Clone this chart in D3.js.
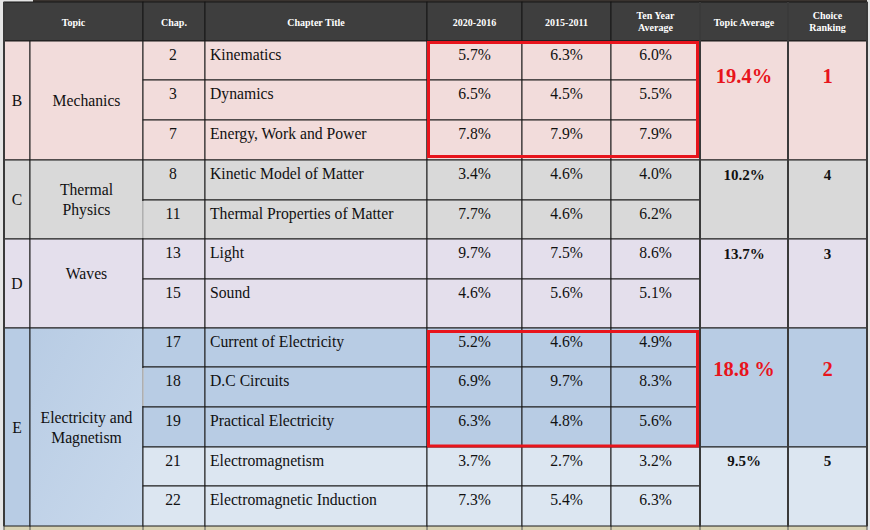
<!DOCTYPE html>
<html>
<head>
<meta charset="utf-8">
<script src="https://cdn.jsdelivr.net/npm/d3@7"></script>
<style>
  html, body { margin: 0; padding: 0; background: #e6e6e6; }
  svg { display: block; }
  text { font-family: "Liberation Serif", "Times New Roman", serif; }
</style>
</head>
<body>
<svg id="chart" width="870" height="530"></svg>
<script>
// ---------------- DATA ----------------
const headers = ["Topic", "Chap.", "Chapter Title", "2020-2016", "2015-2011", "Ten Year\nAverage", "Topic Average", "Choice\nRanking"];
const topicLetters = ["B", "C", "D", "E"];
const topicNames = ["Mechanics", "Thermal\nPhysics", "Waves", "Electricity and\nMagnetism"];
const topicFirstRow = [0, 3, 5, 7];
const topicLastRow = [3, 5, 7, 12];           // exclusive
const chapters = [2, 3, 7, 8, 11, 13, 15, 17, 18, 19, 21, 22];
const chapterTitles = ["Kinematics", "Dynamics", "Energy, Work and Power", "Kinetic Model of Matter",
  "Thermal Properties of Matter", "Light", "Sound", "Current of Electricity", "D.C Circuits",
  "Practical Electricity", "Electromagnetism", "Electromagnetic Induction"];
const share2020_2016 = [5.7, 6.5, 7.8, 3.4, 7.7, 9.7, 4.6, 5.2, 6.9, 6.3, 3.7, 7.3];
const share2015_2011 = [6.3, 4.5, 7.9, 4.6, 4.6, 7.5, 5.6, 4.6, 9.7, 4.8, 2.7, 5.4];
const shareTenYear  = [6.0, 5.5, 7.9, 4.0, 6.2, 8.6, 5.1, 4.9, 8.3, 5.6, 3.2, 6.3];
const groupLabels = ["19.4%", "10.2%", "13.7%", "18.8 %", "9.5%"];
const groupRanking = [1, 4, 3, 2, 5];
const groupFirstRow = [0, 3, 5, 7, 10];
const groupLastRow = [3, 5, 7, 10, 12];       // exclusive
const groupHighlighted = [true, false, false, true, false];

// ---------------- LAYOUT ----------------
const W = 870, H = 530;
const colEdges = [4, 30, 143, 205, 427, 522, 611, 700, 788, 867];
const rowEdges = [41, 80, 120, 160, 200, 239, 279, 328, 367, 407, 447, 486, 526];
const headerTop = 2, headerBottom = 41;
const x = d3.scaleLinear().domain(d3.range(colEdges.length)).range(colEdges);
const y = d3.scaleLinear().domain(d3.range(rowEdges.length)).range(rowEdges);
const groupFill = d3.scaleOrdinal().domain(d3.range(5)).range(["#f2dcdb", "#d9d9d9", "#e4dfec", "#b8cce4", "#dce6f1"]);
const topicFill = d3.scaleOrdinal().domain(d3.range(4)).range(["#f2dcdb", "#d9d9d9", "#e4dfec", "url(#blueGrad)"]);
const topicNameDy = [0, 0, -10, 0];
const groupTextDy = [42, 19.5, 20.3, 48, 19];
const gridColor = "#1c1c1c";
const red = "#e8141c";
const fmt = v => d3.format(".1f")(v) + "%";

const rowGroup = chapters.map((c, i) => groupFirstRow.findIndex((s, g) => i >= s && i < groupLastRow[g]));

const svg = d3.select("#chart");
const defs = svg.append("defs");
const grad = defs.append("linearGradient").attr("id", "blueGrad")
  .attr("x1", "0").attr("y1", "0").attr("x2", "1").attr("y2", "1");
grad.append("stop").attr("offset", "0%").attr("stop-color", "#b8cce4");
grad.append("stop").attr("offset", "100%").attr("stop-color", "#c9d9ec");

// page background
svg.append("rect").attr("width", W).attr("height", H).attr("fill", "#e6e6e6");
// top dark strip
svg.append("rect").attr("x", 33).attr("y", 0).attr("width", x(9) - 33).attr("height", headerTop).attr("fill", "#3a3430");
// bottom strip
svg.append("rect").attr("x", x(0)).attr("y", y(12)).attr("width", x(9) - x(0)).attr("height", H - y(12)).attr("fill", "#d8d3b4");
svg.append("g").selectAll("line").data(d3.range(10)).join("line")
  .attr("x1", d => x(d)).attr("x2", d => x(d)).attr("y1", y(12)).attr("y2", H)
  .attr("stroke", "#555").attr("stroke-width", 1);

// header
const headerCols = [[0, 2], [2, 3], [3, 4], [4, 5], [5, 6], [6, 7], [7, 8], [8, 9]];
const hg = svg.append("g");
hg.selectAll("rect").data(headerCols).join("rect")
  .attr("x", d => x(d[0])).attr("y", headerTop)
  .attr("width", d => x(d[1]) - x(d[0])).attr("height", headerBottom - headerTop)
  .attr("fill", "#3e3e3e").attr("stroke", "#161616").attr("stroke-width", 1);
hg.selectAll("text").data(headers).join("text")
  .attr("text-anchor", "middle")
  .attr("font-size", 10).attr("font-weight", "bold").attr("fill", "#ffffff")
  .each(function (d, i) {
    const cx = (x(headerCols[i][0]) + x(headerCols[i][1])) / 2;
    const lines = d.split("\n");
    const sel = d3.select(this);
    lines.forEach((ln, k) => {
      const base = lines.length === 1 ? 25.5 : 18.5 + k * 12.5;
      sel.append("tspan").attr("x", cx).attr("y", base).text(ln);
    });
  });

// topic letter and name cells
const tg = svg.append("g");
tg.selectAll("rect.letter").data(topicLetters).join("rect").attr("class", "letter")
  .attr("x", x(0)).attr("y", (d, i) => y(topicFirstRow[i]))
  .attr("width", x(1) - x(0)).attr("height", (d, i) => y(topicLastRow[i]) - y(topicFirstRow[i]))
  .attr("fill", (d, i) => i === 3 ? "#b8cce4" : topicFill(i)).attr("stroke", gridColor);
tg.selectAll("rect.name").data(topicNames).join("rect").attr("class", "name")
  .attr("x", x(1)).attr("y", (d, i) => y(topicFirstRow[i]))
  .attr("width", x(2) - x(1)).attr("height", (d, i) => y(topicLastRow[i]) - y(topicFirstRow[i]))
  .attr("fill", (d, i) => topicFill(i)).attr("stroke", gridColor);
tg.selectAll("text.letter").data(topicLetters).join("text").attr("class", "letter")
  .attr("x", (x(0) + x(1)) / 2)
  .attr("y", (d, i) => (y(topicFirstRow[i]) + y(topicLastRow[i])) / 2 + 5.5)
  .attr("text-anchor", "middle").attr("font-size", 15.7).attr("fill", "#111").text(d => d);
tg.selectAll("text.name").data(topicNames).join("text").attr("class", "name")
  .attr("text-anchor", "middle").attr("font-size", 15.7).attr("fill", "#111")
  .each(function (d, i) {
    const cx = (x(1) + x(2)) / 2;
    const cy = (y(topicFirstRow[i]) + y(topicLastRow[i])) / 2 + topicNameDy[i];
    const lines = d.split("\n");
    lines.forEach((ln, k) => {
      const base = cy + 5.5 - (lines.length - 1) * 10 + k * 20;
      d3.select(this).append("tspan").attr("x", cx).attr("y", base).text(ln);
    });
  });

// chapter rows
const rg = svg.append("g");
const rowCols = [2, 3, 4, 5, 6];
chapters.forEach((c, i) => {
  rowCols.forEach(col => {
    rg.append("rect")
      .attr("x", x(col)).attr("y", y(i))
      .attr("width", x(col + 1) - x(col)).attr("height", y(i + 1) - y(i))
      .attr("fill", groupFill(rowGroup[i])).attr("stroke", gridColor);
  });
});
// subtle white separators seen in the reference
[4, 8].forEach(i => {
  rg.append("line").attr("x1", x(2)).attr("x2", x(2)).attr("y1", y(i) + 1).attr("y2", y(i + 1) - 1)
    .attr("stroke", "#f4f4f4").attr("stroke-width", 1.2);
});

const tx = svg.append("g").attr("font-size", 15.7).attr("fill", "#111");
tx.selectAll("text.chap").data(chapters).join("text").attr("class", "chap")
  .attr("x", (x(2) + x(3)) / 2 - 1).attr("y", (d, i) => y(i) + 18.5)
  .attr("text-anchor", "middle").text(d => d);
tx.selectAll("text.title").data(chapterTitles).join("text").attr("class", "title")
  .attr("x", x(3) + 5).attr("y", (d, i) => y(i) + 18.5).text(d => d);
[share2020_2016, share2015_2011, shareTenYear].forEach((series, s) => {
  tx.selectAll("text.v" + s).data(series).join("text").attr("class", "v" + s)
    .attr("x", (x(4 + s) + x(5 + s)) / 2).attr("y", (d, i) => y(i) + 18.5)
    .attr("text-anchor", "middle").text(d => fmt(d));
});

// group (topic average & ranking) cells
const gg = svg.append("g");
[7, 8].forEach(col => {
  gg.selectAll("rect.g" + col).data(groupLabels).join("rect").attr("class", "g" + col)
    .attr("x", x(col)).attr("y", (d, i) => y(groupFirstRow[i]))
    .attr("width", x(col + 1) - x(col)).attr("height", (d, i) => y(groupLastRow[i]) - y(groupFirstRow[i]))
    .attr("fill", (d, i) => groupFill(i)).attr("stroke", gridColor);
});
gg.selectAll("text.avg").data(groupLabels).join("text").attr("class", "avg")
  .attr("x", (x(7) + x(8)) / 2).attr("y", (d, i) => y(groupFirstRow[i]) + groupTextDy[i])
  .attr("text-anchor", "middle").attr("font-weight", "bold")
  .attr("font-size", (d, i) => groupHighlighted[i] ? 20.5 : 15)
  .attr("fill", (d, i) => groupHighlighted[i] ? red : "#111").text(d => d);
gg.selectAll("text.rank").data(groupRanking).join("text").attr("class", "rank")
  .attr("x", (x(8) + x(9)) / 2).attr("y", (d, i) => y(groupFirstRow[i]) + groupTextDy[i])
  .attr("text-anchor", "middle").attr("font-weight", "bold")
  .attr("font-size", (d, i) => groupHighlighted[i] ? 20.5 : 15)
  .attr("fill", (d, i) => groupHighlighted[i] ? red : "#111").text(d => d);

// heavier vertical separators
svg.append("g").selectAll("line").data([0, 7, 8, 9]).join("line")
  .attr("x1", d => x(d)).attr("x2", d => x(d)).attr("y1", headerTop).attr("y2", y(12))
  .attr("stroke", "#3a3a3a").attr("stroke-width", 2);

// red highlight boxes
const hi = groupFirstRow.map((s, g) => g).filter(g => groupHighlighted[g]);
svg.append("g").selectAll("rect").data(hi).join("rect")
  .attr("x", x(4) + 1.5).attr("y", g => y(groupFirstRow[g]) + (g === 0 ? 1.5 : 3.5))
  .attr("width", x(7) - x(4) - 4)
  .attr("height", g => y(groupLastRow[g]) - y(groupFirstRow[g]) - (g === 0 ? 5 : 4.5))
  .attr("fill", "none").attr("stroke", red).attr("stroke-width", 3);
</script>
</body>
</html>
